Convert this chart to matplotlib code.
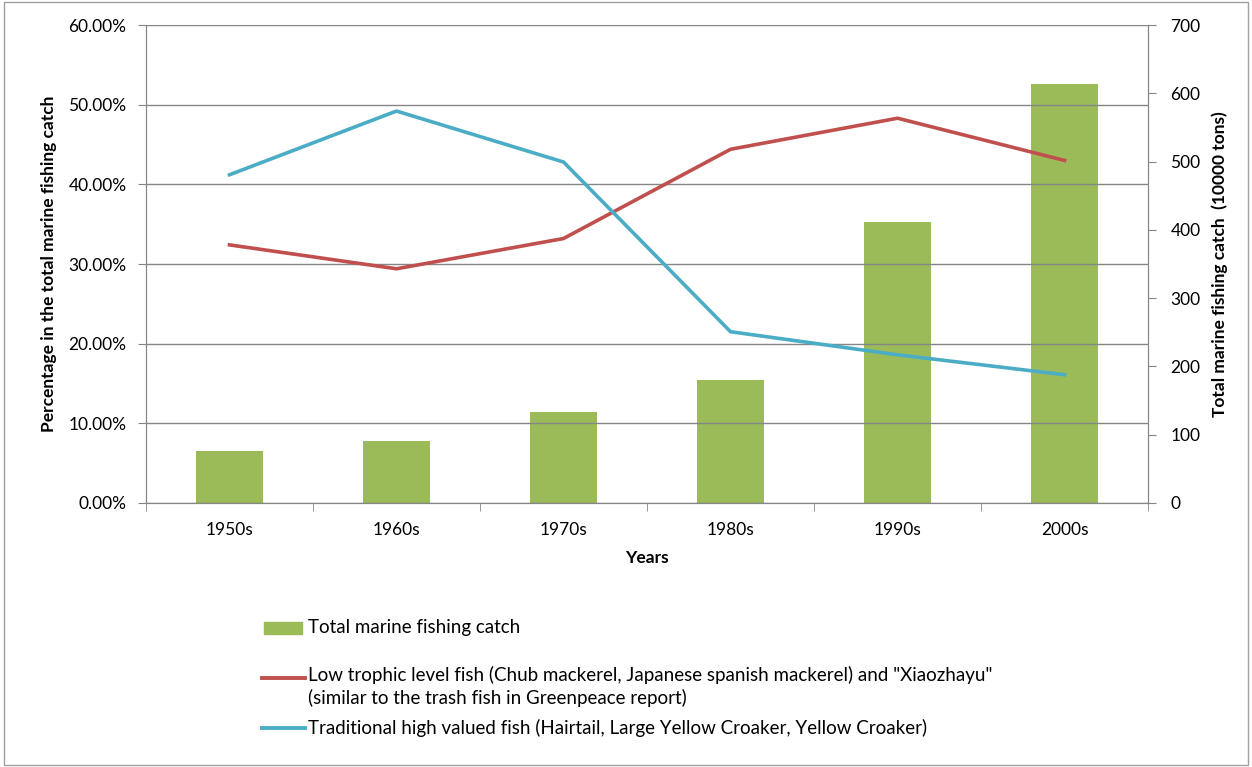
import matplotlib.pyplot as plt
import numpy as np
from matplotlib.lines import Line2D
from matplotlib.patches import Rectangle
from matplotlib.ticker import FuncFormatter, MultipleLocator

decades = ["1950s", "1960s", "1970s", "1980s", "1990s", "2000s"]
total_catch = [76, 91, 133, 180, 411, 613]  # 10000 tons
low_trophic = [32.4, 29.4, 33.2, 44.4, 48.3, 43.0]  # %
high_valued = [41.2, 49.2, 42.8, 21.5, 18.6, 16.1]  # %

label_bar = "Total marine fishing catch"
label_red = ("Low trophic level fish (Chub mackerel, Japanese spanish mackerel) and \"Xiaozhayu\"\n"
             "(similar to the trash fish in Greenpeace report)")
label_blue = "Traditional high valued fish (Hairtail, Large Yellow Croaker, Yellow Croaker)"

green = "#9bbb59"
red = "#c0504d"
blue = "#4bacc6"
grey = "#868686"

plt.rcParams["font.family"] = ["Lato", "DejaVu Sans"]

fig = plt.figure(figsize=(12.52, 7.67), dpi=100)
ax = fig.add_axes([0.1166, 0.3442, 0.8004, 0.6232])
ax2 = ax.twinx()

x = np.arange(len(decades))
ax2.bar(x, total_catch, width=0.4, color=green, zorder=2)
ax.plot(x, low_trophic, color=red, lw=2.6, zorder=3)
ax.plot(x, high_valued, color=blue, lw=2.6, zorder=3)

# lines on top of bars
ax.set_zorder(ax2.get_zorder() + 1)
ax.patch.set_visible(False)

ax.set_xlim(-0.5, len(decades) - 0.5)
ax.set_ylim(0, 60)
ax2.set_ylim(0, 700)
ax.yaxis.set_major_locator(MultipleLocator(10))
ax.yaxis.set_major_formatter(FuncFormatter(lambda v, p: "%.2f%%" % v))
ax2.yaxis.set_major_locator(MultipleLocator(100))
ax.grid(axis="y", color=grey, lw=1)
ax.set_axisbelow(True)

ax.set_xticks(x)
ax.set_xticklabels(decades)
ax.set_xticks(np.arange(-0.5, len(decades)), minor=True)
ax.tick_params(axis="x", which="major", length=0, pad=14)
ax.tick_params(axis="x", which="minor", length=6, color=grey, direction="out")
ax.tick_params(axis="y", length=6, color=grey, labelsize=12.5, pad=8)
ax2.tick_params(axis="y", length=6, color=grey, labelsize=12.5, pad=10)
ax.tick_params(axis="x", labelsize=12.5)

for a in (ax, ax2):
    a.spines["top"].set_visible(False)
    for s in ("left", "right", "bottom"):
        a.spines[s].set_color(grey)

ax.set_xlabel("Years", fontsize=12.5, fontweight="bold", labelpad=8)
ax.set_ylabel("Percentage in the total marine fishing catch", fontsize=12.5,
              fontweight="bold", labelpad=8)
ax2.set_ylabel("Total marine fishing catch  (10000 tons)", fontsize=12.5,
               fontweight="bold", labelpad=8)

# legend, drawn by hand so the two-line entry lines up like the original
def fy(py):
    return 1 - py / 767


def fx(px):
    return px / 1252


fig.patches.append(Rectangle((fx(264), fy(634)), fx(38), 12 / 767, color=green,
                             transform=fig.transFigure))
fig.lines.append(Line2D([fx(262), fx(305)], [fy(678)] * 2, color=red, lw=2.8,
                        transform=fig.transFigure))
fig.lines.append(Line2D([fx(262), fx(305)], [fy(728)] * 2, color=blue, lw=2.8,
                        transform=fig.transFigure))
fig.text(fx(308), fy(628), label_bar, fontsize=13.5, va="center")
fig.text(fx(308), fy(666), label_red, fontsize=13.5, va="top", linespacing=1.3)
fig.text(fx(308), fy(728), label_blue, fontsize=13.5, va="center")

# outer border
fig.patches.append(Rectangle((0.003, 0.003), 0.994, 0.994, fill=False, ec="#a0a0a0",
                             lw=1, transform=fig.transFigure))

fig.savefig("out.png", dpi=100)
